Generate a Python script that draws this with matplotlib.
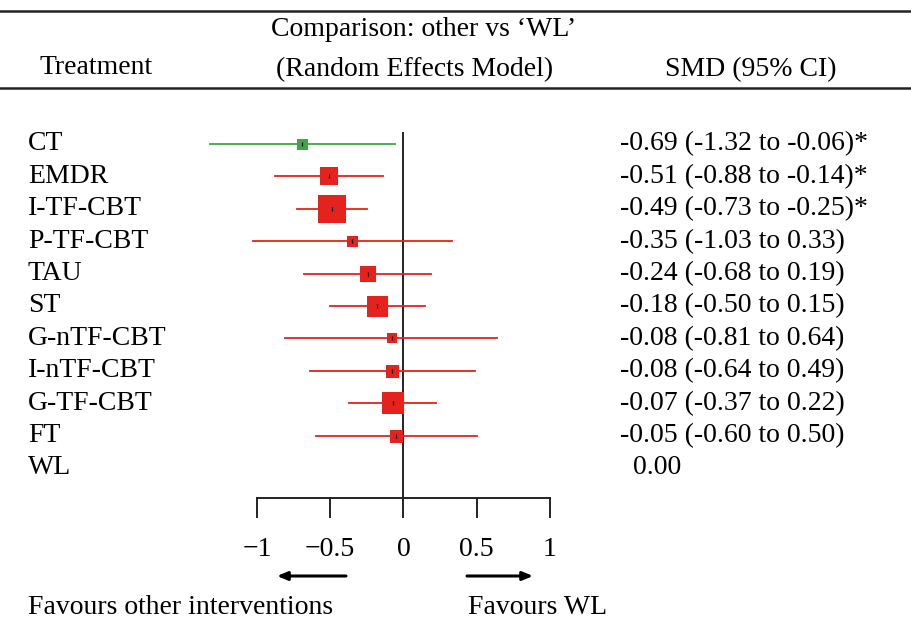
import matplotlib
matplotlib.use("Agg")
import matplotlib.pyplot as plt

plt.rcParams['font.family'] = ['Liberation Serif', 'DejaVu Serif']

# ---- data ----
treatments = ["CT", "EMDR", "I-TF-CBT", "P-TF-CBT", "TAU", "ST", "G-nTF-CBT",
              "I-nTF-CBT", "G-TF-CBT", "FT", "WL"]
smd = [-0.69, -0.51, -0.49, -0.35, -0.24, -0.18, -0.08, -0.08, -0.07, -0.05, 0.00]
ci_low = [-1.32, -0.88, -0.73, -1.03, -0.68, -0.50, -0.81, -0.64, -0.37, -0.60, None]
ci_high = [-0.06, -0.14, -0.25, 0.33, 0.19, 0.15, 0.64, 0.49, 0.22, 0.50, None]
significant = [True, True, True, False, False, False, False, False, False, False, False]
weight = [11, 18, 28, 11, 16, 21, 10, 13, 23, 13, 0]   # relative box size
xticks = [-1, -0.5, 0, 0.5, 1]
xtick_labels = ["\u22121", "\u22120.5", "0", "0.5", "1"]

RED = "#E4231E"
GREEN = "#3DA843"
colors = [GREEN] + [RED] * 9 + [RED]

FS = 20

fig = plt.figure(figsize=(9.12, 6.2), dpi=100)
ax = fig.add_axes([0, 0, 1, 1])
ax.set_xlim(-403.5 / 146.5, (912 - 403.5) / 146.5)
ax.set_ylim((620 - 144) / 32.4, -144 / 32.4)
ax.axis("off")

def py(p):
    return (p - 144) / 32.4

def px(p):
    return (p - 403.5) / 146.5

# header rules
ax.axhline(py(11), color="#222222", lw=1.8)
ax.axhline(py(88), color="#222222", lw=1.8)

ax.text(px(96), py(68), "Treatment", ha="center", va="center", fontsize=FS)
ax.text(px(424), py(30), "Comparison: other vs \u2018WL\u2019", ha="center", va="center", fontsize=FS)
ax.text(px(415), py(70), "(Random Effects Model)", ha="center", va="center", fontsize=FS)
ax.text(px(751), py(70), "SMD (95% CI)", ha="center", va="center", fontsize=FS)

# zero line
ax.plot([0, 0], [py(133), py(498)], color="#222222", lw=1.4, zorder=2)

for i, (name, m, lo, hi, sig, w, c) in enumerate(
        zip(treatments, smd, ci_low, ci_high, significant, weight, colors)):
    ax.text(px(28), i, name, ha="left", va="center", fontsize=FS)
    if lo is None:
        ax.text(px(633), i, f"{m:.2f}", ha="left", va="center", fontsize=FS)
        continue
    ax.plot([lo, hi], [i, i], color=c, lw=1.3, zorder=3)
    ax.plot([m], [i], marker="s", markersize=w * 0.72, color=c,
            markeredgewidth=0, zorder=4)
    ax.plot([m], [i], marker="|", markersize=3.5, color="black",
            markeredgewidth=0.9, zorder=5)
    label = f"{m:.2f} ({lo:.2f} to {hi:.2f})" + ("*" if sig else "")
    ax.text(px(620), i, label, ha="left", va="center", fontsize=FS)

# x axis
ya = py(498)
yt = py(517)
ax.plot([xticks[0], xticks[-1]], [ya, ya], color="#222222", lw=1.4)
for t, lab in zip(xticks, xtick_labels):
    ax.plot([t, t], [ya, yt], color="#222222", lw=1.4)
    ax.text(t, py(549), lab, ha="center", va="center", fontsize=FS)

# arrows
ay = py(576)
ax.annotate("", xy=(px(277), ay), xytext=(px(346), ay),
            arrowprops=dict(arrowstyle="-|>,head_length=0.6,head_width=0.25",
                            color="black", lw=2.2, shrinkA=0, shrinkB=0))
ax.annotate("", xy=(px(533), ay), xytext=(px(467), ay),
            arrowprops=dict(arrowstyle="-|>,head_length=0.6,head_width=0.25",
                            color="black", lw=2.2, shrinkA=0, shrinkB=0))

ax.text(px(28), py(607), "Favours other interventions", ha="left", va="center", fontsize=FS)
ax.text(px(468), py(607), "Favours WL", ha="left", va="center", fontsize=FS)

fig.savefig("out.png", dpi=100)
